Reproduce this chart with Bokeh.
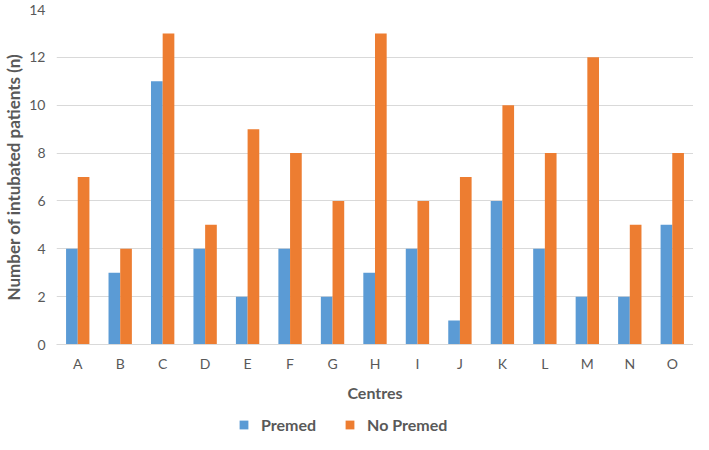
from bokeh.plotting import figure
from bokeh.models import ColumnDataSource, Legend, LegendItem, FactorRange, Range1d
from bokeh.layouts import column
from bokeh.transform import dodge
from bokeh.embed import file_html
from bokeh.resources import INLINE

centres = ["A", "B", "C", "D", "E", "F", "G", "H", "I", "J", "K", "L", "M", "N", "O"]
premed = [4, 3, 11, 4, 2, 4, 2, 3, 4, 1, 6, 4, 2, 2, 5]
no_premed = [7, 4, 13, 5, 9, 8, 6, 13, 6, 7, 10, 8, 12, 5, 8]
y_ticks = [0, 2, 4, 6, 8, 10, 12, 14]
series_names = ["Premed", "No Premed"]
series_colors = ["#5B9BD5", "#ED7D31"]

source = ColumnDataSource(data=dict(centres=centres, premed=premed, no_premed=no_premed))

FONT = "Lato"
GREY = "#595959"

x_range = FactorRange(*centres, range_padding=0)
p = figure(x_range=x_range, y_range=(0, 14),
           width=693, height=412, output_backend="svg", toolbar_location=None,
           min_border_left=0, min_border_right=0, min_border_top=9, min_border_bottom=68)

bw = 0.275
r1 = p.vbar(x=dodge("centres", -bw / 2, range=x_range), top="premed", width=bw,
            source=source, color=series_colors[0], line_color=None)
r2 = p.vbar(x=dodge("centres", bw / 2, range=x_range), top="no_premed", width=bw,
            source=source, color=series_colors[1], line_color=None)

p.outline_line_color = None
p.xgrid.grid_line_color = None
p.ygrid.grid_line_color = "#D9D9D9"
p.ygrid.grid_line_width = 1
p.yaxis.ticker = y_ticks

p.yaxis.axis_line_color = None
p.yaxis.major_tick_line_color = None
p.yaxis.minor_tick_line_color = None
p.yaxis.major_label_text_font = FONT
p.yaxis.major_label_text_font_size = "14px"
p.yaxis.major_label_text_color = GREY
p.yaxis.major_label_standoff = 5
p.yaxis.axis_label = "Number of intubated patients (n)"
p.yaxis.axis_label_text_font = FONT
p.yaxis.axis_label_text_font_size = "17px"
p.yaxis.axis_label_text_font_style = "bold"
p.yaxis.axis_label_text_color = GREY
p.yaxis.axis_label_standoff = 2

p.xaxis.axis_line_color = "#D9D9D9"
p.xaxis.major_tick_line_color = None
p.xaxis.minor_tick_line_color = None
p.xaxis.major_label_text_font = FONT
p.xaxis.major_label_text_font_size = "14px"
p.xaxis.major_label_text_color = GREY
p.xaxis.major_label_standoff = 4
p.xaxis.axis_label = "Centres"
p.xaxis.axis_label_text_font = FONT
p.xaxis.axis_label_text_font_size = "16px"
p.xaxis.axis_label_text_font_style = "bold"
p.xaxis.axis_label_text_color = GREY
p.xaxis.axis_label_standoff = 8

# legend strip below the chart (bars here lie outside its visible y range)
lg = figure(width=693, height=22, output_backend="svg", toolbar_location=None,
            x_range=FactorRange(*centres, range_padding=0), y_range=Range1d(100, 101),
            min_border=0, outline_line_color=None)
lg.axis.visible = False
lg.grid.visible = False
lr1 = lg.vbar(x="centres", top="premed", width=bw, source=source,
              color=series_colors[0], line_color=None)
lr2 = lg.vbar(x="centres", top="no_premed", width=bw, source=source,
              color=series_colors[1], line_color=None)

legend = Legend(items=[LegendItem(label=series_names[0], renderers=[lr1]),
                       LegendItem(label=series_names[1], renderers=[lr2])],
                orientation="horizontal", location=(182, 0))
legend.label_text_font = FONT
legend.label_text_font_size = "16px"
legend.label_text_font_style = "bold"
legend.label_text_color = GREY
legend.glyph_width = 11
legend.glyph_height = 11
legend.label_height = 14
legend.spacing = 28
legend.label_standoff = 12
legend.border_line_color = None
legend.background_fill_alpha = 0
legend.padding = 0
legend.margin = 0
lg.add_layout(legend, "center")

open("out.html", "w").write(file_html(column(p, lg, spacing=0), INLINE))
